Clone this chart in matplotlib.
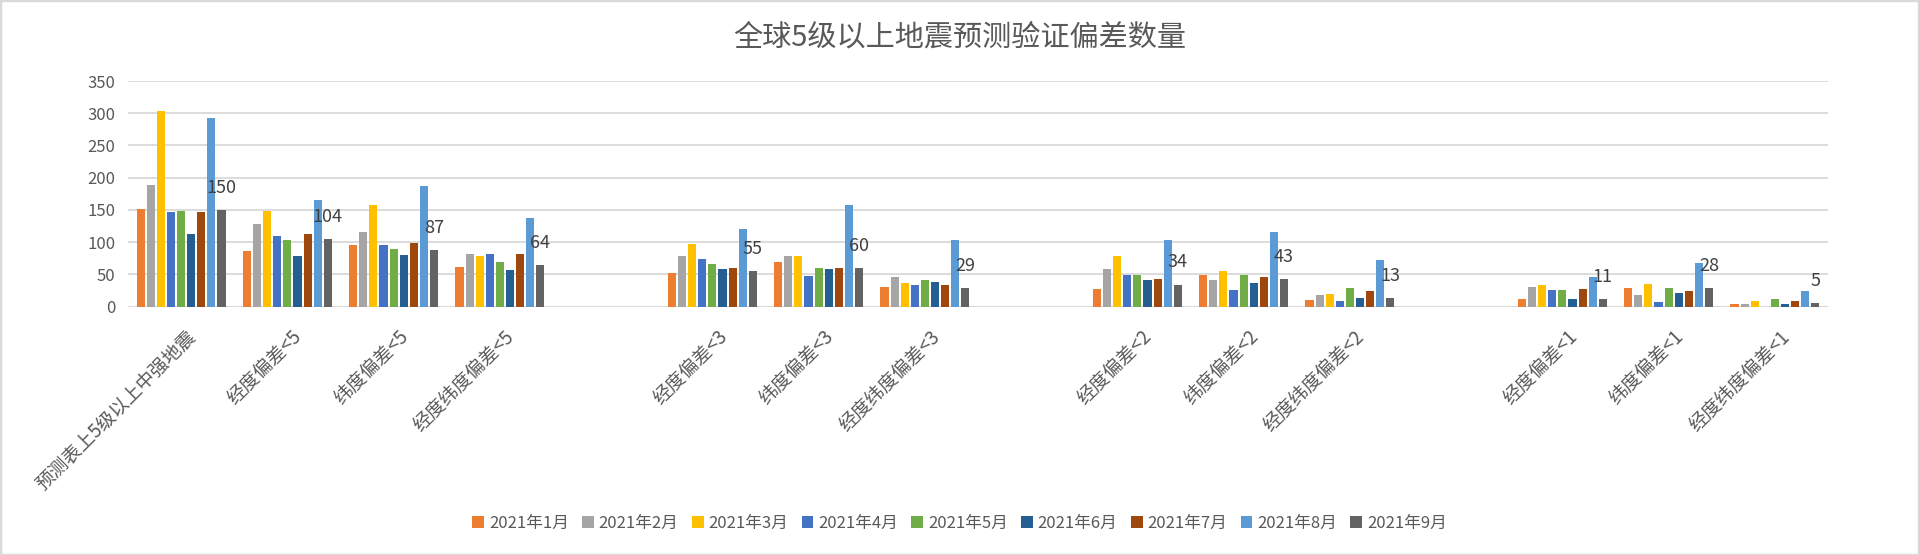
import numpy as np
import matplotlib
matplotlib.use("Agg")
import matplotlib.pyplot as plt
from matplotlib.patches import Rectangle
from matplotlib.transforms import ScaledTranslation

plt.rcParams['font.family'] = ['Noto Sans CJK SC', 'DejaVu Sans']

# categories (blank slots separate the groups)
categories = ['预测表上5级以上中强地震', '经度偏差<5', '纬度偏差<5', '经度纬度偏差<5', '',
              '经度偏差<3', '纬度偏差<3', '经度纬度偏差<3', '',
              '经度偏差<2', '纬度偏差<2', '经度纬度偏差<2', '',
              '经度偏差<1', '纬度偏差<1', '经度纬度偏差<1']

months = ['2021年1月', '2021年2月', '2021年3月', '2021年4月', '2021年5月',
          '2021年6月', '2021年7月', '2021年8月', '2021年9月']

jan = [151, 86, 95, 61, None, 52, 69, 30, None, 27, 49, 10, None, 12, 29, 4]
feb = [188, 128, 115, 82, None, 78, 78, 46, None, 58, 41, 18, None, 30, 18, 4]
mar = [304, 148, 157, 78, None, 97, 78, 37, None, 78, 55, 20, None, 34, 35, 9]
apr = [146, 109, 95, 81, None, 74, 47, 34, None, 49, 26, 9, None, 26, 7, 0]
may = [148, 103, 89, 69, None, 66, 60, 41, None, 49, 49, 29, None, 26, 29, 12]
jun = [112, 78, 80, 56, None, 58, 58, 38, None, 41, 37, 13, None, 12, 21, 4]
jul = [146, 112, 98, 81, None, 60, 60, 34, None, 43, 46, 24, None, 27, 24, 9]
aug = [293, 165, 187, 137, None, 120, 157, 103, None, 103, 115, 72, None, 46, 68, 24]
sep = [150, 104, 87, 64, None, 55, 60, 29, None, 34, 43, 13, None, 11, 28, 5]

series = [jan, feb, mar, apr, may, jun, jul, aug, sep]
colors = ['#ED7D31', '#A5A5A5', '#FFC000', '#4472C4', '#70AD47',
          '#255E91', '#9E480E', '#5B9BD5', '#636363']

W, H = 1919, 555
fig = plt.figure(figsize=(W / 100, H / 100), dpi=100)
fig.patches.append(Rectangle((0, 0), 1, 1, transform=fig.transFigure,
                             fill=False, edgecolor='#D9D9D9', linewidth=2.5))

left, right, top, bottom = 128, 1828, 81, 306.5
ax = fig.add_axes([left / W, 1 - bottom / H, (right - left) / W, (bottom - top) / H])

x = np.arange(len(categories))
pitch = 0.095
width = 0.076
for i, (vals, c, m) in enumerate(zip(series, colors, months)):
    v = np.array([np.nan if a is None else a for a in vals], dtype=float)
    ax.bar(x + (i - 4) * pitch, v, width, color=c, label=m, zorder=3)

# data labels only on the last series
for xi, val in zip(x, sep):
    if val is None:
        continue
    ax.annotate(str(val), (xi + 4 * pitch, val), xytext=(0, 16),
                textcoords='offset points', ha='center', va='center',
                fontsize=13, color='#404040', zorder=4)

ax.set_xlim(-0.5, len(categories) - 0.5)
ax.set_ylim(0, 350)
ax.set_yticks(range(0, 351, 50))
ax.yaxis.grid(True, color='#D9D9D9', linewidth=1.3, zorder=0)
ax.axhline(0, color='#D9D9D9', linewidth=1.5, zorder=2)
for s in ax.spines.values():
    s.set_visible(False)
ax.tick_params(axis='y', length=0, pad=9, labelsize=12, labelcolor='#595959')
ax.tick_params(axis='x', length=0, pad=14, labelsize=13.5, labelcolor='#595959')
ax.set_xticks(x)
ax.set_xticklabels(categories, rotation=45, ha='right', rotation_mode='anchor')
shift = ScaledTranslation(4 / 100, 0, fig.dpi_scale_trans)
for lab in ax.get_xticklabels():
    lab.set_transform(lab.get_transform() + shift)

fig.text(0.5, 1 - 37 / H, '全球5级以上地震预测验证偏差数量', ha='center', va='center',
         fontsize=21, color='#595959')

fig.legend(loc='center', bbox_to_anchor=(0.5, 1 - 523 / H), ncol=9, frameon=False,
           fontsize=12, handlelength=0.7, handleheight=0.7, handletextpad=0.3,
           columnspacing=0.8, labelcolor='#595959')

fig.savefig('out.png', dpi=100)
